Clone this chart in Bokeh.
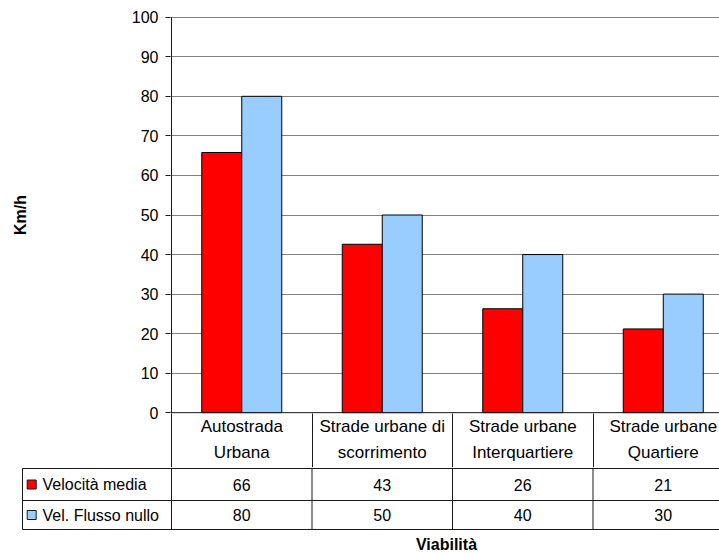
from bokeh.plotting import figure
from bokeh.layouts import column
from bokeh.models import Range1d, FixedTicker, Span, LinearAxis
from bokeh.core.properties import value
from bokeh.embed import file_html
from bokeh.resources import INLINE

# ---------------- data ----------------
categories = ["Autostrada\nUrbana", "Strade urbane di\nscorrimento",
              "Strade urbane\nInterquartiere", "Strade urbane\nQuartiere"]
series_names = ["Velocità media", "Vel. Flusso nullo"]
velocita_media = [65.8, 42.6, 26.3, 21.2]
flusso_nullo = [80, 50, 40, 30]
y_ticks = [0, 10, 20, 30, 40, 50, 60, 70, 80, 90, 100]
y_title = "Km/h"
x_title = "Viabilità"

# ---------------- style / layout ----------------
FONT = value("Liberation Sans")
FS = "16px"
FS_CAT = "17px"
RED = "#FF0000"
BLUE = "#99CCFF"
LINE = "#1a1a1a"
GRID = "#808080"
C = 140.5      # px per category
K = 3.956      # px per km/h
ZERO = 412.3   # canvas y of value 0
AX = 171       # canvas x of the value axis
W = 719
FRAME_BOTTOM = 413
CAT_ROW = 54
H1 = FRAME_BOTTOM + CAT_ROW
H2 = 553 - H1
bar_w = 40 / C
n = len(categories)
idx = list(range(n))
centers = [i + 0.5 for i in idx]

y_start = -(FRAME_BOTTOM - ZERO) / K
y_end = (ZERO - 16) / K
x_end = (W - AX) / C

p = figure(width=W, height=H1, output_backend="svg", toolbar_location=None,
           x_axis_location=None, x_range=Range1d(-1 / C, x_end),
           y_range=Range1d(y_start, y_end), frame_align=False,
           min_border_left=AX - 1, min_border_right=0, min_border_top=16,
           min_border_bottom=CAT_ROW)
p.outline_line_color = None
p.xgrid.visible = False
p.ygrid.ticker = FixedTicker(ticks=y_ticks)
p.ygrid.grid_line_color = GRID
p.ygrid.grid_line_width = 1

ax = p.yaxis[0]
ax.ticker = FixedTicker(ticks=y_ticks)
ax.axis_line_color = None
ax.major_tick_line_color = LINE
ax.major_tick_out = 5
ax.major_tick_in = 0
ax.minor_tick_line_color = None
ax.major_label_standoff = 7
ax.major_label_text_font = "Liberation Sans"
ax.major_label_text_font_size = FS
ax.major_label_text_color = "black"
ax.axis_label = y_title
ax.axis_label_text_font = "Liberation Sans"
ax.axis_label_text_font_size = FS
ax.axis_label_text_font_style = "bold"
ax.axis_label_text_color = "black"
ax.axis_label_standoff = 100

# category axis: labels at the category centres, dividers as minor ticks
cat_ax = LinearAxis(ticker=FixedTicker(ticks=centers, minor_ticks=idx),
                    axis_line_color=None, major_tick_line_color=None,
                    major_tick_out=0, major_tick_in=0,
                    minor_tick_line_color=LINE, minor_tick_out=CAT_ROW,
                    minor_tick_in=0, major_label_standoff=3 - CAT_ROW,
                    major_label_overrides={c: lab for c, lab in zip(centers, categories)},
                    major_label_text_font="Liberation Sans",
                    major_label_text_font_size=FS_CAT,
                    major_label_text_line_height=1.42,
                    major_label_text_color="black")
p.add_layout(cat_ax, "below")

# bars
p.vbar(x=[c - bar_w / 2 for c in centers], top=velocita_media, bottom=0,
       width=bar_w, fill_color=RED, line_color="black", line_width=1)
p.vbar(x=[c + bar_w / 2 for c in centers], top=flusso_nullo, bottom=0,
       width=bar_w, fill_color=BLUE, line_color="black", line_width=1)

# value axis line & zero line
p.add_layout(Span(location=0, dimension="width", line_color=LINE, line_width=1))
p.segment(x0=[0], y0=[y_ticks[-1]], x1=[0], y1=[y_start],
          line_color=LINE, line_width=1)

# ---------------- data table ----------------
t = figure(width=W, height=H2, output_backend="svg", toolbar_location=None,
           x_axis_location=None, y_axis_location=None, frame_align=False,
           x_range=Range1d(-AX / C, x_end), y_range=Range1d(H2, 0),
           min_border_left=0, min_border_right=0, min_border_top=0,
           min_border_bottom=0)
t.outline_line_color = None
t.xgrid.visible = False
t.ygrid.visible = False

top = H1  # canvas y of this figure's top edge
x_left = (22 - AX) / C
rows_y = [468 - top, 500 - top, 529 - top]
row_mid = [484 - top, 514.5 - top]

t.segment(x0=[x_left] * 3, y0=rows_y, x1=[x_end] * 3, y1=rows_y,
          line_color=LINE, line_width=1)
t.segment(x0=[x_left] + idx, y0=[rows_y[0]] + [0] * n,
          x1=[x_left] + idx, y1=[rows_y[-1]] * (n + 1),
          line_color=LINE, line_width=1)

sq_x = (31.2 - AX) / C
t.rect(x=[sq_x, sq_x], y=row_mid, width=9, height=9, width_units="screen",
       height_units="screen", fill_color=[RED, BLUE], line_color=LINE,
       line_width=1)
t.text(x=[(42 - AX) / C] * 2, y=row_mid, text=series_names,
       text_align="left", text_baseline="middle", text_font=FONT,
       text_font_size=FS, text_color="black")
for vals, ym in zip([velocita_media, flusso_nullo], row_mid):
    t.text(x=centers, y=[ym] * n,
           text=[f"{v:.0f}" for v in vals], text_align="center",
           text_baseline="middle", text_font=FONT, text_font_size=FS,
           text_color="black")

t.text(x=[(446 - AX) / C], y=[544 - top], text=[x_title], text_align="center",
       text_baseline="middle", text_font=FONT, text_font_size=FS,
       text_font_style="bold", text_color="black")

layout = column(p, t, spacing=0)
open("out.html", "w").write(file_html(layout, INLINE))
